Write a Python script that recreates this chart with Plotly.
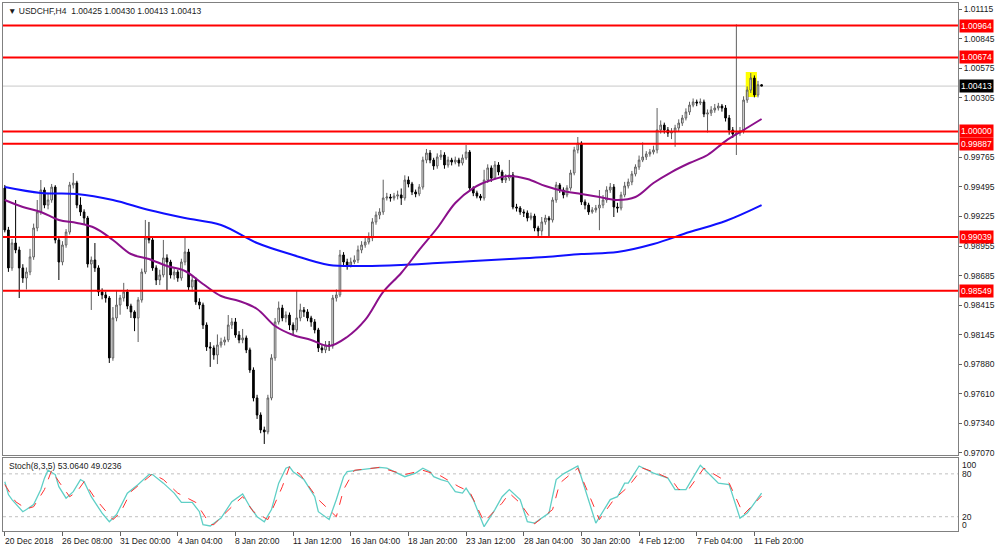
import plotly.graph_objects as go

symbol = "USDCHF,H4"
first_open = 0.99484
close = [0.99102, 0.98756, 0.98983, 0.98920, 0.98756, 0.98664, 0.98719, 0.98856, 0.99120, 0.99266,
         0.99466, 0.99329, 0.99375, 0.99493, 0.99011, 0.98810, 0.98965, 0.99083, 0.99512, 0.99530,
         0.99329, 0.99266, 0.99211, 0.98792, 0.98828, 0.98756, 0.98537, 0.98510, 0.98482, 0.97936,
         0.98300, 0.98418, 0.98482, 0.98537, 0.98409, 0.98355, 0.98300, 0.98464, 0.98719, 0.99029,
         0.99011, 0.98756, 0.98646, 0.98692, 0.98847, 0.98810, 0.98692, 0.98719, 0.98664, 0.98810,
         0.98901, 0.98582, 0.98646, 0.98446, 0.98418, 0.98236, 0.98036, 0.98027, 0.97963, 0.98054,
         0.98081, 0.98100, 0.98236, 0.98264, 0.98145, 0.98100, 0.98118, 0.98009, 0.97826, 0.97571,
         0.97416, 0.97280, 0.97262, 0.97571, 0.97936, 0.98264, 0.98391, 0.98300, 0.98327, 0.98236,
         0.98191, 0.98300, 0.98373, 0.98355, 0.98300, 0.98264, 0.98191, 0.98027, 0.98009, 0.98054,
         0.98045, 0.98482, 0.98510, 0.98874, 0.98810, 0.98783, 0.98810, 0.98828, 0.98920, 0.98965,
         0.98992, 0.99029, 0.99175, 0.99238, 0.99266, 0.99393, 0.99402, 0.99393, 0.99411, 0.99421,
         0.99393, 0.99557, 0.99521, 0.99448, 0.99430, 0.99493, 0.99739, 0.99803, 0.99739, 0.99685,
         0.99767, 0.99785, 0.99694, 0.99739, 0.99721, 0.99739, 0.99712, 0.99758, 0.99812, 0.99484,
         0.99439, 0.99411, 0.99393, 0.99557, 0.99667, 0.99575, 0.99694, 0.99630, 0.99557, 0.99575,
         0.99603, 0.99311, 0.99302, 0.99266, 0.99257, 0.99211, 0.99229, 0.99120, 0.99093, 0.99175,
         0.99211, 0.99193, 0.99375, 0.99512, 0.99466, 0.99421, 0.99484, 0.99621, 0.99831, 0.99894,
         0.99357, 0.99329, 0.99266, 0.99284, 0.99302, 0.99329, 0.99375, 0.99466, 0.99493, 0.99311,
         0.99302, 0.99421, 0.99503, 0.99539, 0.99612, 0.99676, 0.99739, 0.99767, 0.99794, 0.99812,
         0.99831, 1.00013, 1.00058, 1.00013, 0.99985, 0.99995, 1.00031, 1.00076, 1.00122, 1.00177,
         1.00240, 1.00268, 1.00259, 1.00268, 1.00158, 1.00168, 1.00195, 1.00213, 1.00231, 1.00213,
         1.00122, 1.00013, 0.99976, 0.99985, 1.00004, 1.00286, 1.00377, 1.00486, 1.00332, 1.00425,
         1.00413]
high = [0.99512, 0.99130, 0.99020, 0.99375, 0.98950, 0.98790, 0.98760, 0.98930, 0.99160, 0.99375,
        0.99557, 0.99490, 0.99430, 0.99521, 0.99510, 0.99040, 0.99000, 0.99110, 0.99540, 0.99621,
        0.99550, 0.99400, 0.99290, 0.99230, 0.98860, 0.98983, 0.98780, 0.98570, 0.98540, 0.98500,
        0.98400, 0.98555, 0.98510, 0.98620, 0.98560, 0.98430, 0.98370, 0.98490, 0.98750, 0.99193,
        0.99175, 0.99040, 0.98780, 0.98740, 0.99011, 0.98880, 0.98830, 0.98760, 0.98740, 0.98840,
        0.99038, 0.98930, 0.98680, 0.98670, 0.98480, 0.98440, 0.98260, 0.98080, 0.98050, 0.98150,
        0.98120, 0.98130, 0.98327, 0.98300, 0.98300, 0.98180, 0.98200, 0.98140, 0.98030, 0.97850,
        0.97600, 0.97440, 0.97310, 0.97600, 0.97970, 0.98300, 0.98450, 0.98420, 0.98360, 0.98350,
        0.98260, 0.98555, 0.98430, 0.98400, 0.98380, 0.98320, 0.98290, 0.98210, 0.98060, 0.98090,
        0.98090, 0.98510, 0.98560, 0.98920, 0.98900, 0.98840, 0.98850, 0.98870, 0.98960, 0.99000,
        0.99040, 0.99080, 0.99210, 0.99270, 0.99300, 0.99560, 0.99440, 0.99430, 0.99440, 0.99460,
        0.99480, 0.99600, 0.99590, 0.99540, 0.99470, 0.99520, 0.99770, 0.99840, 0.99830, 0.99760,
        0.99800, 0.99830, 0.99810, 0.99770, 0.99760, 0.99770, 0.99760, 0.99790, 0.99876, 0.99830,
        0.99500, 0.99460, 0.99430, 0.99650, 0.99700, 0.99690, 0.99730, 0.99720, 0.99650, 0.99610,
        0.99740, 0.99630, 0.99340, 0.99320, 0.99290, 0.99280, 0.99260, 0.99250, 0.99140, 0.99220,
        0.99240, 0.99230, 0.99400, 0.99540, 0.99530, 0.99490, 0.99510, 0.99650, 0.99860, 0.99949,
        0.99910, 0.99380, 0.99350, 0.99310, 0.99330, 0.99466, 0.99420, 0.99500, 0.99530, 0.99520,
        0.99350, 0.99450, 0.99540, 0.99570, 0.99640, 0.99700, 0.99780, 0.99900, 0.99820, 0.99840,
        0.99870, 1.00213, 1.00100, 1.00080, 1.00040, 1.00030, 1.00060, 1.00110, 1.00150, 1.00210,
        1.00270, 1.00300, 1.00290, 1.00300, 1.00290, 1.00200, 1.00230, 1.00250, 1.00260, 1.00250,
        1.00240, 1.00150, 1.00040, 1.00975, 1.00040, 1.00320, 1.00410, 1.00532, 1.00510, 1.00460,
        1.00430]
low = [0.99080, 0.98720, 0.98730, 0.98890, 0.98482, 0.98620, 0.98560, 0.98690, 0.98830, 0.99090,
       0.99240, 0.99300, 0.99290, 0.99350, 0.98980, 0.98646, 0.98780, 0.98940, 0.99060, 0.99480,
       0.99300, 0.99230, 0.99150, 0.98760, 0.98373, 0.98720, 0.98500, 0.98470, 0.98440, 0.97890,
       0.97910, 0.98270, 0.98330, 0.98450, 0.98380, 0.98300, 0.98180, 0.98081, 0.98440, 0.98700,
       0.98980, 0.98730, 0.98600, 0.98600, 0.98670, 0.98555, 0.98660, 0.98650, 0.98630, 0.98640,
       0.98780, 0.98550, 0.98540, 0.98420, 0.98380, 0.98200, 0.98000, 0.97854, 0.97920, 0.97880,
       0.98030, 0.98050, 0.98080, 0.98200, 0.98120, 0.98070, 0.98070, 0.97980, 0.97800, 0.97540,
       0.97380, 0.97250, 0.97152, 0.97240, 0.97550, 0.97910, 0.98240, 0.98270, 0.98260, 0.98190,
       0.98150, 0.98170, 0.98270, 0.98310, 0.98270, 0.98220, 0.98160, 0.97990, 0.97980, 0.97980,
       0.98000, 0.98020, 0.98450, 0.98490, 0.98780, 0.98740, 0.98760, 0.98790, 0.98800, 0.98890,
       0.98940, 0.98970, 0.99000, 0.99150, 0.99200, 0.99240, 0.99370, 0.99360, 0.99370, 0.99380,
       0.99330, 0.99370, 0.99490, 0.99420, 0.99400, 0.99410, 0.99470, 0.99710, 0.99710, 0.99650,
       0.99660, 0.99740, 0.99660, 0.99670, 0.99690, 0.99700, 0.99680, 0.99690, 0.99740, 0.99460,
       0.99410, 0.99390, 0.99370, 0.99370, 0.99530, 0.99540, 0.99560, 0.99600, 0.99530, 0.99530,
       0.99550, 0.99290, 0.99270, 0.99240, 0.99220, 0.99180, 0.99190, 0.99090, 0.99040, 0.99050,
       0.99150, 0.99040, 0.99170, 0.99350, 0.99440, 0.99390, 0.99400, 0.99460, 0.99600, 0.99800,
       0.99330, 0.99290, 0.99240, 0.99250, 0.99260, 0.99100, 0.99300, 0.99350, 0.99440, 0.99220,
       0.99260, 0.99280, 0.99400, 0.99480, 0.99510, 0.99590, 0.99650, 0.99720, 0.99740, 0.99770,
       0.99790, 0.99800, 0.99980, 0.99980, 0.99950, 0.99930, 0.99860, 1.00000, 1.00050, 1.00100,
       1.00150, 1.00220, 1.00230, 1.00240, 1.00130, 0.99990, 1.00140, 1.00170, 1.00190, 1.00180,
       1.00090, 0.99970, 0.99940, 0.99785, 0.99960, 0.99980, 1.00260, 1.00350, 1.00310, 1.00310,
       1.00413]

date_labels = ["20 Dec 2018", "26 Dec 08:00", "31 Dec 00:00", "4 Jan 04:00", "8 Jan 20:00",
               "11 Jan 12:00", "16 Jan 04:00", "18 Jan 20:00", "23 Jan 12:00", "28 Jan 04:00",
               "30 Jan 20:00", "4 Feb 12:00", "7 Feb 04:00", "11 Feb 20:00"]
bars_per_label = 16

purple_idx = list(range(0, 211, 5))
purple_ma = [0.99375, 0.99311, 0.99266, 0.99193, 0.99166, 0.99120, 0.99011, 0.98883, 0.98838, 0.98774,
             0.98728, 0.98610, 0.98500, 0.98455, 0.98382, 0.98227, 0.98145, 0.98100, 0.98045, 0.98127,
             0.98282, 0.98537, 0.98710, 0.98920, 0.99120, 0.99348, 0.99484, 0.99557, 0.99594, 0.99566,
             0.99503, 0.99457, 0.99430, 0.99402, 0.99375, 0.99402, 0.99530, 0.99630, 0.99712, 0.99785,
             0.99912, 1.00013, 1.00113]
blue_idx = list(range(0, 211, 10))
blue_ma = [0.99493, 0.99439, 0.99430, 0.99375, 0.99284, 0.99211, 0.99147, 0.98983, 0.98874, 0.98783,
           0.98774, 0.98783, 0.98801, 0.98819, 0.98838, 0.98856, 0.98883, 0.98901, 0.98974, 0.99083,
           0.99184, 0.99329]

levels = [1.00964, 1.00674, 1.00000, 0.99887, 0.99039, 0.98549]
bid = 1.00413
price_ticks = [1.01115, 1.00845, 1.00575, 1.00305, 0.99765, 0.99495, 0.99225, 0.98955,
               0.98685, 0.98415, 0.98145, 0.97880, 0.97610, 0.97340, 0.97070]

highlight_bars = (205.6, 208.7)
highlight_prices = (1.00313, 1.00541)

k_idx = [0, 1, 2, 5, 6, 8, 10, 11, 12, 14, 15, 17, 19, 21, 22, 24, 27, 29, 31, 34,
         37, 40, 41, 44, 47, 49, 52, 54, 55, 57, 60, 63, 66, 68, 70, 72, 74, 76, 78, 79,
         80, 83, 86, 87, 90, 92, 94, 95, 99, 104, 106, 110, 111, 114, 116, 118, 119, 121, 123, 125,
         127, 128, 130, 133, 136, 138, 140, 143, 145, 147, 151, 153, 155, 159, 164, 168, 170, 172, 173, 176,
         180, 184, 186, 189, 193, 198, 201, 204, 206, 210]
k_val = [69, 51, 44, 27, 30, 37, 58, 74, 85, 79, 62, 46, 55, 72, 69, 48, 25, 13, 23, 53,
         65, 79, 79, 67, 53, 40, 40, 27, 9, 7, 18, 41, 52, 34, 20, 13, 30, 67, 88, 90,
         83, 72, 48, 27, 16, 44, 76, 83, 86, 89, 88, 79, 76, 81, 88, 83, 76, 72, 69, 55,
         53, 60, 44, 6, 30, 48, 58, 44, 13, 11, 25, 72, 80, 91, 11, 44, 48, 67, 67, 91,
         81, 74, 58, 58, 92, 67, 65, 18, 25, 53.064]
d_idx = [0, 3, 6, 8, 11, 13, 15, 18, 20, 22, 25, 30, 32, 35, 41, 44, 48, 53, 57, 58,
         64, 66, 69, 73, 77, 79, 82, 87, 92, 94, 97, 104, 111, 116, 121, 126, 129, 133, 138, 140,
         143, 147, 152, 154, 159, 165, 169, 173, 177, 181, 185, 187, 190, 194, 201, 205, 210]
d_val = [65, 41, 31, 34, 58, 85, 69, 48, 55, 69, 46, 16, 25, 55, 80, 72, 53, 40, 9, 9,
         39, 48, 27, 16, 62, 90, 79, 44, 20, 58, 85, 89, 79, 85, 77, 62, 55, 13, 39, 53,
         39, 10, 30, 67, 88, 16, 44, 62, 88, 81, 72, 58, 60, 88, 67, 23, 49.0236]
stoch_levels = [20, 80]
stoch_labels = [100, 80, 20, 0]

# ---------------------------------------------------------------------------
FONT = "Liberation Sans, Arial, sans-serif"
TXT = "#1a1a1a"
opens = [first_open] + close[:-1]
bars = list(range(len(close)))

fig = go.Figure()

fig.add_trace(go.Candlestick(
    x=bars, open=opens, high=high, low=low, close=close,
    increasing=dict(line=dict(color="#5f5f5f", width=1), fillcolor="#ffffff"),
    decreasing=dict(line=dict(color="#000000", width=1), fillcolor="#000000"),
    xaxis="x", yaxis="y", hoverinfo="skip", whiskerwidth=0,
))
fig.add_trace(go.Scatter(x=blue_idx, y=blue_ma, mode="lines", line_shape="spline",
                         line=dict(color="#1010ff", width=2), xaxis="x", yaxis="y"))
fig.add_trace(go.Scatter(x=purple_idx, y=purple_ma, mode="lines", line_shape="spline",
                         line=dict(color="#8b108b", width=2), xaxis="x", yaxis="y"))

fig.add_trace(go.Scatter(x=k_idx, y=k_val, mode="lines",
                         line=dict(color="#5fcfc6", width=1.3), xaxis="x2", yaxis="y2"))
fig.add_trace(go.Scatter(x=d_idx, y=d_val, mode="lines",
                         line=dict(color="#ff3030", width=1, dash="dash"), xaxis="x2", yaxis="y2"))

shapes = []
shapes.append(dict(type="line", xref="paper", x0=0, x1=1, yref="y", y0=bid, y1=bid,
                   line=dict(color="#c8c8c8", width=1), layer="below"))
shapes.append(dict(type="rect", xref="x", x0=highlight_bars[0], x1=highlight_bars[1],
                   yref="y", y0=highlight_prices[0], y1=highlight_prices[1],
                   fillcolor="#ffff00", line=dict(width=0), layer="below"))
for lv in levels:
    shapes.append(dict(type="line", xref="paper", x0=0, x1=1, yref="y", y0=lv, y1=lv,
                       line=dict(color="#ff0000", width=2), layer="above"))
for sl in stoch_levels:
    shapes.append(dict(type="line", xref="paper", x0=0, x1=1, yref="y2", y0=sl, y1=sl,
                       line=dict(color="#c0c0c0", width=1, dash="dot"), layer="below"))

annotations = []
last = (opens[-1], high[-1], low[-1], close[-1])
annotations.append(dict(
    xref="paper", yref="paper", x=0, y=1, xanchor="left", yanchor="top", xshift=3, yshift=-1,
    text="▼ " + symbol + "  " + " ".join(f"{v:.5f}" for v in last),
    showarrow=False, font=dict(family=FONT, size=8.5, color=TXT)))
annotations.append(dict(
    xref="paper", yref="paper", x=0, y=0.138, xanchor="left", yanchor="top", xshift=4, yshift=-1,
    text=f"Stoch(8,3,5) {k_val[-1]:.4f} {d_val[-1]:.4f}",
    showarrow=False, font=dict(family=FONT, size=8.5, color=TXT)))
for lv in levels:
    annotations.append(dict(
        xref="paper", yref="y", x=1, y=lv, xanchor="left", yanchor="middle", xshift=1,
        text=f"{lv:.5f}", showarrow=False, bgcolor="#ff0000", borderpad=1,
        font=dict(family=FONT, size=8.5, color="#ffffff")))
annotations.append(dict(
    xref="paper", yref="y", x=1, y=bid, xanchor="left", yanchor="middle", xshift=1,
    text=f"{bid:.5f}", showarrow=False, bgcolor="#000000", borderpad=1,
    font=dict(family=FONT, size=8.5, color="#ffffff")))
stoch_shift = {100: -5, 80: 0, 20: 0, 0: 6}
for sv in stoch_labels:
    annotations.append(dict(
        xref="paper", yref="y2", x=1, y=sv, xanchor="left", yanchor="middle", xshift=2,
        yshift=stoch_shift[sv], text=str(sv), showarrow=False,
        font=dict(family=FONT, size=8.5, color=TXT)))
label_pos = [k * bars_per_label for k in range(len(date_labels))]
for pos, txt in zip(label_pos, date_labels):
    annotations.append(dict(
        xref="x2", yref="paper", x=pos, y=0, xanchor="left", yanchor="top", xshift=-2, yshift=-3,
        text=txt, showarrow=False, font=dict(family=FONT, size=8.5, color=TXT)))

axis_line = dict(showline=True, mirror=True, linecolor="#808080", linewidth=1,
                 showgrid=False, zeroline=False)

fig.update_layout(
    width=1000, height=550,
    margin=dict(l=3, r=42, t=3, b=19),
    paper_bgcolor="#ffffff", plot_bgcolor="#ffffff",
    showlegend=False, boxgap=0.35, hovermode=False,
    font=dict(family=FONT, size=8.5, color=TXT),
    xaxis=dict(domain=[0, 1], anchor="y", range=[-0.5, 264.5], showticklabels=False,
               rangeslider=dict(visible=False), ticks="", **axis_line),
    yaxis=dict(domain=[0.143, 1], anchor="x", range=[0.97047, 1.01170], side="right",
               tickvals=price_ticks, ticktext=[f"{t:.5f}" for t in price_ticks],
               ticks="outside", ticklen=3, tickcolor="#606060",
               tickfont=dict(family=FONT, size=8.5, color=TXT), **axis_line),
    xaxis2=dict(domain=[0, 1], anchor="y2", matches="x", range=[-0.5, 264.5],
                tickvals=label_pos, showticklabels=False, ticks="outside", ticklen=4,
                tickcolor="#606060", **axis_line),
    yaxis2=dict(domain=[0, 0.138], anchor="x2", range=[0, 102], side="right",
                showticklabels=False, ticks="", **axis_line),
    shapes=shapes, annotations=annotations,
)

fig.write_html("out.html", config={"displayModeBar": False},
               post_script="document.body.style.margin='0px';")
